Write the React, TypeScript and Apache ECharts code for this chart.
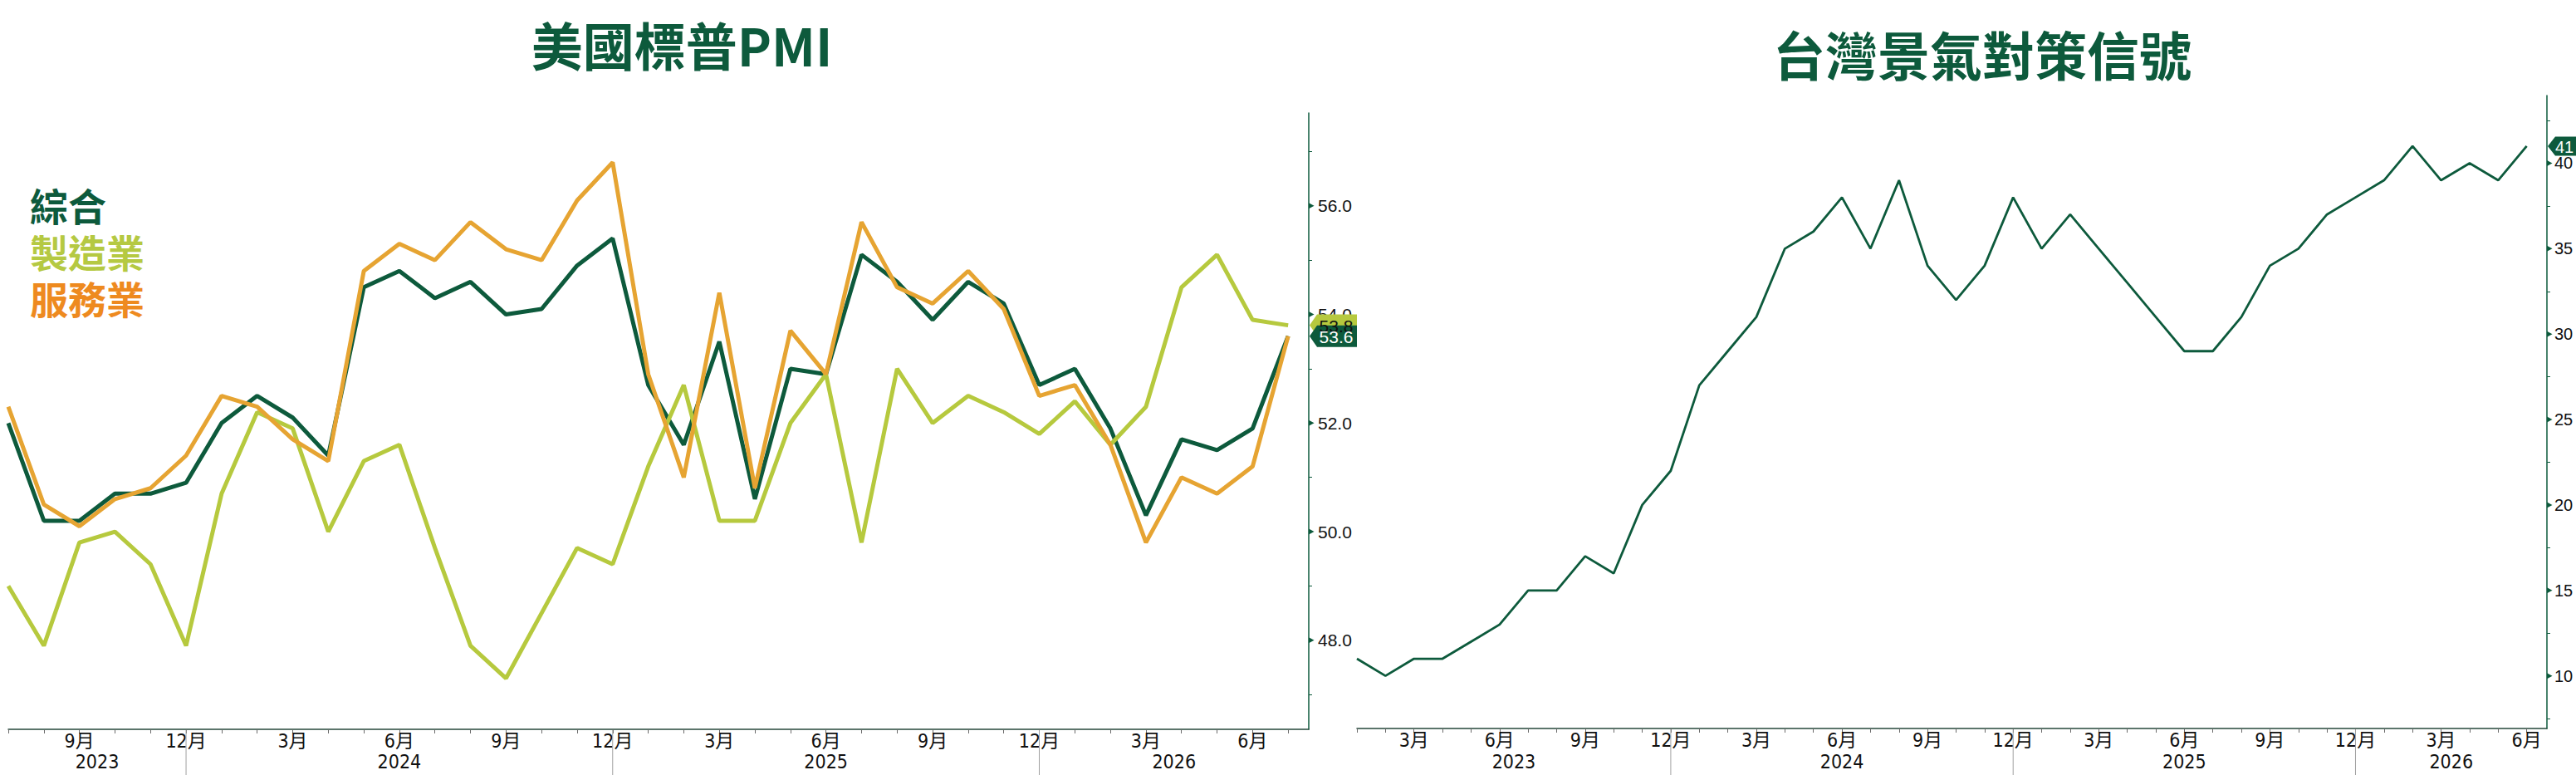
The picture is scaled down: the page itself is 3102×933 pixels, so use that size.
import React, { useEffect, useRef } from "react";
import * as echarts from "echarts";

// ---------------- data ----------------
const pmiMonths = [
  "2023-07", "2023-08", "2023-09", "2023-10", "2023-11", "2023-12",
  "2024-01", "2024-02", "2024-03", "2024-04", "2024-05", "2024-06",
  "2024-07", "2024-08", "2024-09", "2024-10", "2024-11", "2024-12",
  "2025-01", "2025-02", "2025-03", "2025-04", "2025-05", "2025-06",
  "2025-07", "2025-08", "2025-09", "2025-10", "2025-11", "2025-12",
  "2026-01", "2026-02", "2026-03", "2026-04", "2026-05", "2026-06",
  "2026-07",
];
const pmiComposite = [
  52.0, 50.2, 50.2, 50.7, 50.7, 50.9, 52.0, 52.5, 52.1, 51.4,
  54.5, 54.8, 54.3, 54.6, 54.0, 54.1, 54.9, 55.4, 52.7, 51.6,
  53.5, 50.6, 53.0, 52.9, 55.1, 54.6, 53.9, 54.6, 54.2, 52.7,
  53.0, 51.9, 50.3, 51.7, 51.5, 51.9, 53.6,
];
const pmiManufacturing = [
  49.0, 47.9, 49.8, 50.0, 49.4, 47.9, 50.7, 52.2, 51.9, 50.0,
  51.3, 51.6, 49.7, 47.9, 47.3, 48.5, 49.7, 49.4, 51.2, 52.7,
  50.2, 50.2, 52.0, 52.9, 49.8, 53.0, 52.0, 52.5, 52.2, 51.8,
  52.4, 51.6, 52.3, 54.5, 55.1, 53.9, 53.8,
];
const pmiServices = [
  52.3, 50.5, 50.1, 50.6, 50.8, 51.4, 52.5, 52.3, 51.7, 51.3,
  54.8, 55.3, 55.0, 55.7, 55.2, 55.0, 56.1, 56.8, 52.9, 51.0,
  54.4, 50.8, 53.7, 52.9, 55.7, 54.5, 54.2, 54.8, 54.1, 52.5,
  52.7, 51.6, 49.8, 51.0, 50.7, 51.2, 53.6,
];
const pmiSeriesNames = ["綜合", "製造業", "服務業"];
const pmiYLabels = [48, 50, 52, 54, 56];
const pmiYMinor = [47, 49, 51, 53, 55, 57];
const pmiYRange = [46.36, 57.71];

const twMonths = [
  "2023-01", "2023-02", "2023-03", "2023-04", "2023-05", "2023-06",
  "2023-07", "2023-08", "2023-09", "2023-10", "2023-11", "2023-12",
  "2024-01", "2024-02", "2024-03", "2024-04", "2024-05", "2024-06",
  "2024-07", "2024-08", "2024-09", "2024-10", "2024-11", "2024-12",
  "2025-01", "2025-02", "2025-03", "2025-04", "2025-05", "2025-06",
  "2025-07", "2025-08", "2025-09", "2025-10", "2025-11", "2025-12",
  "2026-01", "2026-02", "2026-03", "2026-04", "2026-05", "2026-06",
];
const twSignal = [
  11, 10, 11, 11, 12, 13, 15, 15, 17, 16, 20, 22,
  27, 29, 31, 35, 36, 38, 35, 39, 34, 32, 34, 38,
  35, 37, 35, 33, 31, 29, 29, 31, 34, 35, 37, 38,
  39, 41, 39, 40, 39, 41,
];
const twYLabels = [10, 15, 20, 25, 30, 35, 40];
const twYMinor = [7.5, 12.5, 17.5, 22.5, 27.5, 32.5, 37.5, 42.5];
const twYRange = [6.92, 43.96];

const titles = ["美國標普PMI", "台灣景氣對策信號"];

// ---------------- styling ----------------
const GREEN = "#0d5a3c";
const LIME = "#b6c93e";
const AMBER = "#e6a432";
const LEGEND_LIME = "#b5c942";
const LEGEND_ORANGE = "#ee8a1f";
const AXIS_DARK = "#24473a";
const TEXT = "#111111";
const NUM_FONT = "'Liberation Sans', Arial, 'Noto Sans CJK TC', sans-serif";
const NARROW_FONT = "'Liberation Sans Narrow', 'Arial Narrow', 'DejaVu Sans Condensed', 'Liberation Sans', 'Noto Sans CJK TC', sans-serif";
const CJK_FONT = "'Noto Sans CJK TC', 'Noto Sans CJK SC', sans-serif";

const monthNum = (m: string) => parseInt(m.slice(5), 10);
const quarterIdx = (months: string[]) =>
  months.map((m, i) => (monthNum(m) % 3 === 0 ? i : -1)).filter((i) => i >= 0);

function xAxisCfg(gridIndex: number, months: string[], max: number) {
  return {
    type: "value",
    gridIndex,
    min: 0,
    max,
    splitLine: { show: false },
    axisLine: { show: true, onZero: false, lineStyle: { color: AXIS_DARK, width: 1.5 } },
    axisTick: {
      show: true,
      length: 5,
      customValues: months.map((_, i) => i),
      lineStyle: { color: "#6b6b6b", width: 1 },
    },
    axisLabel: {
      show: true,
      customValues: quarterIdx(months),
      formatter: (v: number) => {
        const m = months[Math.round(v)];
        return m ? monthNum(m) + "月" : "";
      },
      fontSize: 23,
      color: TEXT,
      margin: 2,
      fontFamily: NARROW_FONT,
    },
  };
}

function yAxisCfg(
  gridIndex: number,
  range: number[],
  labels: number[],
  minor: number[],
  digits: number,
  fontSize: number,
  margin: number
) {
  return {
    type: "value",
    gridIndex,
    position: "right",
    min: range[0],
    max: range[1],
    splitLine: { show: false },
    axisLine: { show: true, onZero: false, lineStyle: { color: GREEN, width: 1.5 } },
    axisTick: {
      show: true,
      length: 4,
      customValues: minor,
      lineStyle: { color: GREEN, width: 1 },
    },
    axisLabel: {
      show: true,
      customValues: labels,
      formatter: (v: number) => v.toFixed(digits),
      fontSize,
      color: TEXT,
      margin,
      fontFamily: NUM_FONT,
    },
  };
}

const PMI_X_MAX = 36.58;
const TW_X_MAX = 41.71;

export default function App() {
  const ref = useRef<HTMLDivElement>(null);

  useEffect(() => {
    if (!ref.current) return;
    const chart = echarts.init(ref.current, null, { renderer: "svg" });

    const pmiSeries = [
      { name: pmiSeriesNames[0], data: pmiComposite, color: GREEN },
      { name: pmiSeriesNames[1], data: pmiManufacturing, color: LIME },
      { name: pmiSeriesNames[2], data: pmiServices, color: AMBER },
    ];

    chart.setOption({
      animation: false,
      backgroundColor: "#ffffff",
      grid: [
        { left: 10, top: 136, width: 1566, height: 742, containLabel: false },
        { left: 1634, top: 115, width: 1433, height: 762, containLabel: false },
      ],
      xAxis: [xAxisCfg(0, pmiMonths, PMI_X_MAX), xAxisCfg(1, twMonths, TW_X_MAX)],
      yAxis: [
        yAxisCfg(0, pmiYRange, pmiYLabels, pmiYMinor, 1, 21, 11),
        yAxisCfg(1, twYRange, twYLabels, twYMinor, 0, 20, 9),
      ],
      legend: {
        orient: "vertical",
        left: 26,
        top: 218,
        icon: "none",
        itemWidth: 0,
        itemHeight: 46,
        itemGap: 10,
        selectedMode: false,
        textStyle: {
          fontSize: 46,
          lineHeight: 46,
          fontWeight: "bold",
          fontFamily: CJK_FONT,
        },
        data: [
          { name: pmiSeriesNames[0], textStyle: { color: GREEN } },
          { name: pmiSeriesNames[1], textStyle: { color: LEGEND_LIME } },
          { name: pmiSeriesNames[2], textStyle: { color: LEGEND_ORANGE } },
        ],
      },
      series: [
        ...pmiSeries.map((s, k) => ({
          type: "line",
          name: s.name,
          xAxisIndex: 0,
          yAxisIndex: 0,
          data: s.data.map((v, i) => [i, v]),
          symbol: "none",
          showSymbol: false,
          color: s.color,
          lineStyle: { width: 5, color: s.color },
          z: 3 + k,
        })),
        {
          type: "line",
          name: titles[1],
          xAxisIndex: 1,
          yAxisIndex: 1,
          data: twSignal.map((v, i) => [i, v]),
          symbol: "none",
          showSymbol: false,
          color: GREEN,
          lineStyle: { width: 2.8, color: GREEN },
        },
      ],
    });

    // ---------- decorations placed through the axes' own scales ----------
    const els: any[] = [];
    const px = (xi: number, v: number) => chart.convertToPixel({ xAxisIndex: xi }, v) as number;
    const py = (yi: number, v: number) => chart.convertToPixel({ yAxisIndex: yi }, v) as number;

    // titles
    els.push({
      type: "text",
      x: 821,
      y: 53,
      z: 100,
      style: {
        text: titles[0],
        fontSize: 62,
        fontWeight: "bold",
        fontFamily: CJK_FONT,
        fill: GREEN,
        align: "center",
        verticalAlign: "middle",
      },
    });
    els.push({
      type: "text",
      x: 2387,
      y: 63,
      z: 100,
      style: {
        text: titles[1],
        fontSize: 63,
        fontWeight: "bold",
        fontFamily: CJK_FONT,
        fill: GREEN,
        align: "center",
        verticalAlign: "middle",
      },
    });

    // year separators and year labels
    const yearParts = (xi: number, months: string[], xMax: number, axisY: number) => {
      const decIdx = months.map((m, i) => (monthNum(m) === 12 ? i : -1)).filter((i) => i >= 0);
      decIdx.forEach((i) => {
        const x = px(xi, i);
        els.push({
          type: "line",
          z: 100,
          shape: { x1: x, y1: axisY + 1, x2: x, y2: 933 },
          style: { stroke: "#a0a0a0", lineWidth: 1 },
        });
      });
      const bounds = [px(xi, 0), ...decIdx.map((i) => px(xi, i)), px(xi, xMax)];
      const years: string[] = [];
      months.forEach((m) => {
        const y = m.slice(0, 4);
        if (!years.includes(y)) years.push(y);
      });
      years.forEach((y, k) => {
        if (k + 1 >= bounds.length) return;
        els.push({
          type: "text",
          z: 100,
          x: (bounds[k] + bounds[k + 1]) / 2,
          y: 917,
          style: {
            text: y,
            fontSize: 23,
            fontFamily: NARROW_FONT,
            fill: TEXT,
            align: "center",
            verticalAlign: "middle",
          },
        });
      });
    };
    yearParts(0, pmiMonths, PMI_X_MAX, py(0, pmiYRange[0]));
    yearParts(1, twMonths, TW_X_MAX, py(1, twYRange[0]));

    // major tick markers (small triangles)
    const tri = (xi: number, yi: number, xMax: number, vals: number[]) => {
      const ax = px(xi, xMax);
      vals.forEach((v) => {
        const y = py(yi, v);
        els.push({
          type: "polygon",
          z: 100,
          shape: { points: [[ax, y - 3.5], [ax + 6.5, y], [ax, y + 3.5]] },
          style: { fill: GREEN },
        });
      });
    };
    tri(0, 0, PMI_X_MAX, pmiYLabels);
    tri(1, 1, TW_X_MAX, twYLabels);

    // last value tags
    const tag = (
      xi: number,
      yi: number,
      xMax: number,
      v: number,
      text: string,
      bg: string,
      fg: string,
      h: number,
      w: number,
      fs: number,
      textDx: number
    ) => {
      const x = px(xi, xMax) + 1;
      const y = py(yi, v);
      const hh = h / 2;
      els.push({
        type: "polygon",
        z: 110,
        shape: {
          points: [[x, y], [x + 9, y - hh], [x + w, y - hh], [x + w, y + hh], [x + 9, y + hh]],
        },
        style: { fill: bg },
      });
      els.push({
        type: "text",
        z: 111,
        x: x + textDx,
        y: y + 1,
        style: {
          text,
          fontSize: fs,
          fontFamily: NUM_FONT,
          fill: fg,
          align: "center",
          verticalAlign: "middle",
        },
      });
    };
    const lastOf = (a: number[]) => a[a.length - 1];
    tag(0, 0, PMI_X_MAX, lastOf(pmiManufacturing), lastOf(pmiManufacturing).toFixed(1), LIME, TEXT, 26, 57, 21, 32);
    tag(0, 0, PMI_X_MAX, lastOf(pmiComposite), lastOf(pmiComposite).toFixed(1), GREEN, "#ffffff", 26, 57, 21, 32);
    tag(1, 1, TW_X_MAX, lastOf(twSignal), String(lastOf(twSignal)), GREEN, "#ffffff", 23, 50, 20, 20);

    chart.setOption({ graphic: { elements: els } });

    return () => {
      chart.dispose();
    };
  }, []);

  return (
    <div
      ref={ref}
      style={{ position: "absolute", left: 0, top: 0, width: 3102, height: 933, background: "#fff" }}
    />
  );
}
